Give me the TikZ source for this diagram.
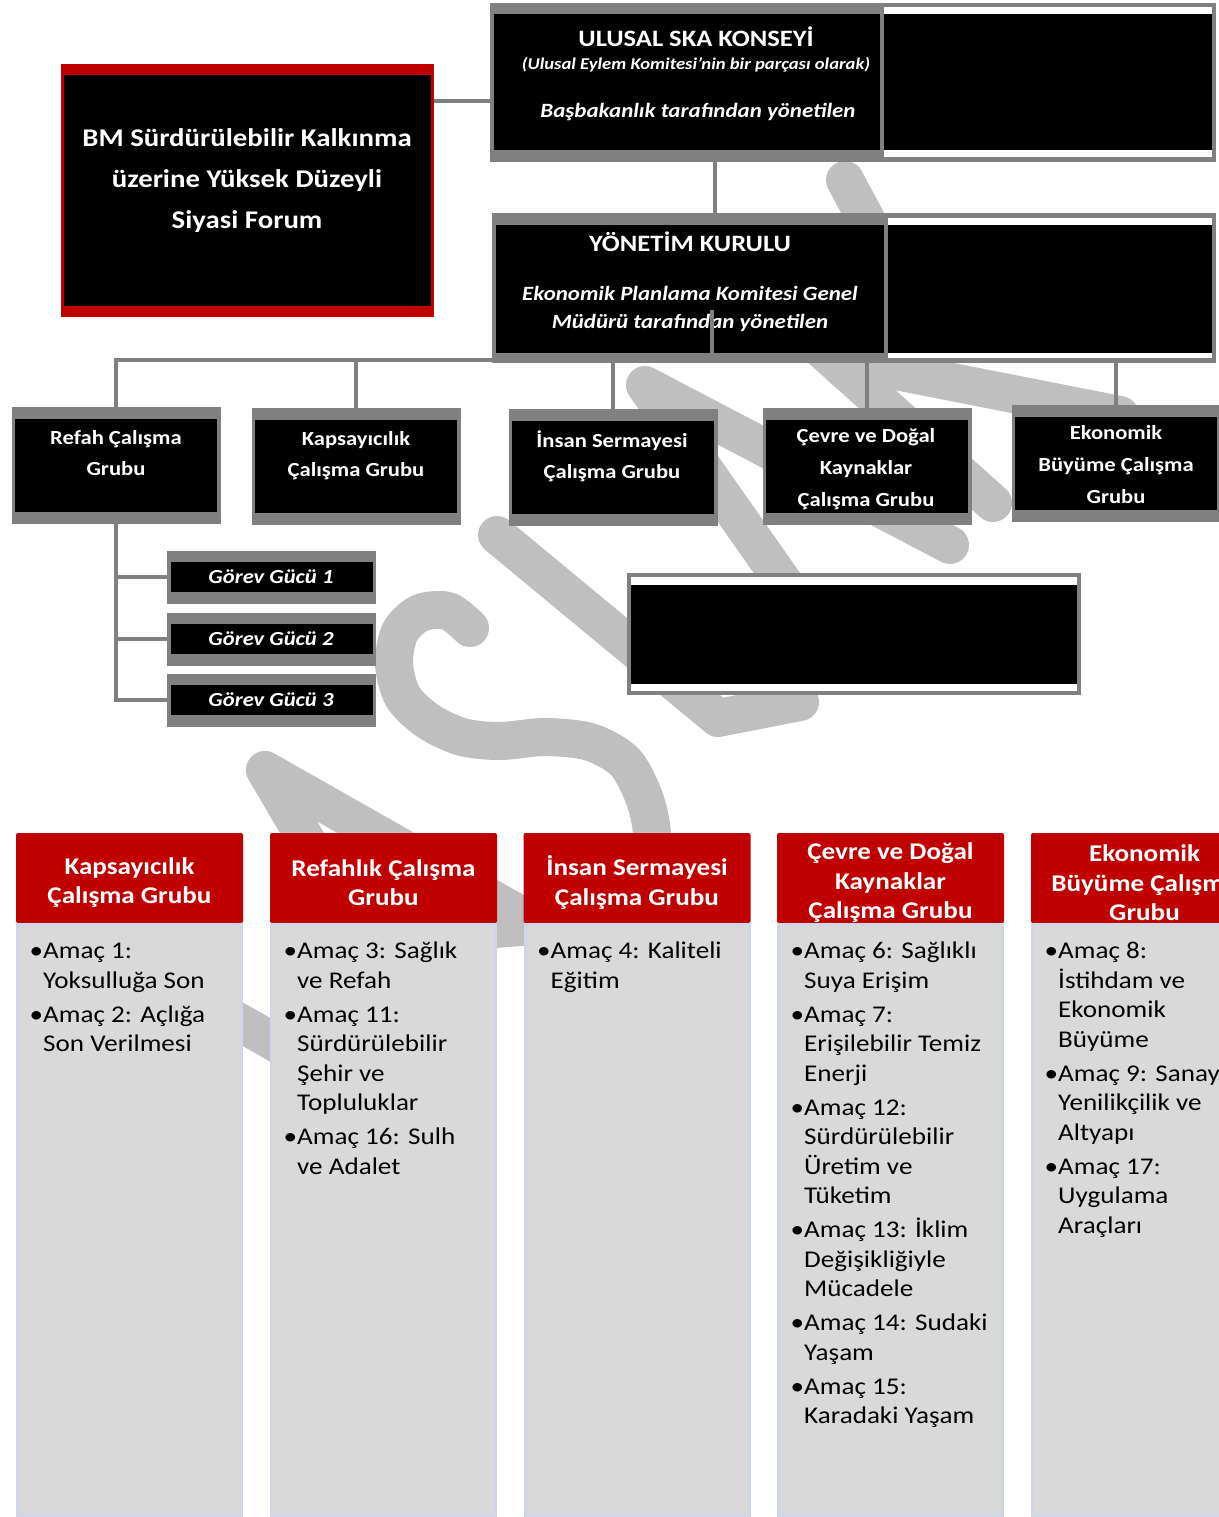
\documentclass[tikz,border=0pt]{standalone}
\usepackage{fontspec}
\setmainfont{Carlito}[FakeStretch=1.13]
\usepackage{tikz}
\definecolor{framegray}{HTML}{808080}
\definecolor{skared}{HTML}{C00000}
\definecolor{wmgray}{HTML}{BFBFBF}
\definecolor{bodygray}{HTML}{D9D9D9}
\definecolor{bodyline}{HTML}{CFD6E6}
\tikzstyle{frame} = [rectangle, fill=framegray, inner sep=0pt, outer sep=0pt]
\tikzstyle{block} = [rectangle, fill=black, inner sep=0pt, outer sep=0pt]
\tikzstyle{blank} = [rectangle, fill=white, inner sep=0pt, outer sep=0pt]
\tikzstyle{wtext} = [text=white, align=center, inner sep=0pt]
\tikzstyle{branch} = [draw=framegray, line width=4pt]
\tikzstyle{wmark} = [draw=wmgray, line width=38pt, line cap=round, line join=round]
\tikzstyle{head} = [rectangle, fill=skared, rounded corners=2pt, inner sep=0pt,
                 outer sep=0pt, minimum width=227pt, minimum height=90pt]
\tikzstyle{body} = [rectangle, fill=bodygray, draw=bodyline, line width=3pt,
                 inner sep=0pt, outer sep=0pt, minimum width=224pt, minimum height=591pt]
\tikzstyle{goal} = [anchor=north west, inner sep=0pt, font=\fontsize{24}{29.5}\selectfont]

\begin{document}
\begin{tikzpicture}[x=1pt,y=-1pt]
\useasboundingbox (0,0) rectangle (1218,1517);

%watermark
\draw[wmark] (437,1063) -- (265,770) -- (561,938);
\draw[wmark] (200,1000) -- (320,1068);
\draw[wmark] plot[smooth] coordinates {(470,628) (448,611) (420,613) (400,632) (394,664)
   (403,697) (428,721) (462,737) (500,741) (545,737) (590,742) (625,762) (645,800)
   (652,840) (640,885) (600,915) (540,925) (480,930)};
\draw[wmark] (497,535) -- (718,718) -- (800,702);
\draw[wmark] (840,663) -- (645,385) -- (950,545);
\draw[wmark] (845,180) -- (920,320);
\draw[wmark] (800,330) -- (993,503);
\draw[wmark] (840,360) -- (1120,415);

%top boxes
\node [frame, fill=skared, minimum width=373pt, minimum height=253pt] (fbm) at (247.5,190.5) {};
\node [block, minimum width=367pt, minimum height=231pt] (bm) at (247.5,190.5) {};
\node [wtext, font=\fontsize{25.5}{41}\selectfont\bfseries] (bmT) at (247,181)
   {BM Sürdürülebilir Kalkınma\\üzerine Yüksek Düzeyli\\Siyasi Forum};

\node [frame, minimum width=726pt, minimum height=159pt] (fulusal) at (853,82.5) {};
\node [block, minimum width=386pt, minimum height=136pt] (ulusal) at (687,82) {};
\node [blank, minimum width=328pt, minimum height=150pt] (ulusalW) at (1048,82) {};
\node [block, minimum width=328pt, minimum height=136pt] (ulusalR) at (1048,82) {};
\node [wtext, font=\fontsize{23.5}{26}\selectfont\bfseries] (ulusalT) at (696,36.5) {ULUSAL SKA KONSEYİ};
\node [wtext, font=\fontsize{16.5}{20}\selectfont\bfseries\itshape] (ulusalS) at (696,65)
   {(Ulusal Eylem Komitesi’nin bir parçası olarak)};
\node [wtext, font=\fontsize{20.3}{26}\selectfont\bfseries\itshape] (ulusalB) at (698,112.5)
   {Başbakanlık tarafından yönetilen};

\node [frame, minimum width=724pt, minimum height=150pt] (fyon) at (854,288) {};
\node [block, minimum width=388pt, minimum height=128pt] (yon) at (690,289) {};
\node [blank, minimum width=324pt, minimum height=140pt] (yonW) at (1050,288) {};
\node [block, minimum width=324pt, minimum height=128pt] (yonR) at (1050,289) {};
\node [wtext, font=\fontsize{23.5}{26}\selectfont\bfseries] (yonT) at (690,241.5) {YÖNETİM KURULU};
\node [wtext, font=\fontsize{20.3}{28}\selectfont\bfseries\itshape] (yonB) at (690,309)
   {Ekonomik Planlama Komitesi Genel\\Müdürü tarafından yönetilen};

%working groups
\foreach \x/\y/\n in {116/465/refah, 356/466.5/kaps, 613/467.5/insan, 867/466.5/cevre, 1116/463/ekon}{
   \node [frame, minimum width=209pt, minimum height=117pt] (f\n) at (\x,\y) {};
   \node [block, minimum width=202pt, minimum height=93pt] (\n) at (\x,\y) {};
}
\node [wtext, font=\fontsize{20}{31}\selectfont\bfseries] (refahT) at (116,453) {Refah Çalışma\\Grubu};
\node [wtext, font=\fontsize{20}{31}\selectfont\bfseries] (kapsT) at (356,455.5) {Kapsayıcılık\\Çalışma Grubu};
\node [wtext, font=\fontsize{20}{31}\selectfont\bfseries] (insanT) at (612,456.5) {İnsan Sermayesi\\Çalışma Grubu};
\node [wtext, font=\fontsize{20}{32}\selectfont\bfseries] (cevreT) at (866,469.5) {Çevre ve Doğal\\Kaynaklar\\Çalışma Grubu};
\node [wtext, font=\fontsize{20}{32}\selectfont\bfseries] (ekonT) at (1116,465) {Ekonomik\\Büyüme Çalışma\\Grubu};

\foreach \y/\k in {577/1, 639/2, 700/3}{
   \node [frame, minimum width=209pt, minimum height=53pt] (fgg\k) at (271,\y) {};
   \node [block, minimum width=202pt, minimum height=30pt] (gg\k) at (272,\y) {};
   \node [wtext, font=\fontsize{20}{24}\selectfont\bfseries\itshape] (ggT\k) at (271,\y) {Görev Gücü \k};
}

\node [frame, minimum width=454pt, minimum height=122pt] (fmid) at (854,634) {};
\node [blank, minimum width=446pt, minimum height=114pt] (midW) at (854,634) {};
\node [block, minimum width=446pt, minimum height=99pt] (mid) at (854,634.5) {};

%connectors
\coordinate (bcon) at (0,101);
\coordinate (ucon) at (715,0);
\coordinate (bus) at (0,360);
\coordinate (stub) at (712,310);
\path [branch] (fbm.east |- bcon) -- (fulusal.west |- bcon);
\path [branch] (fulusal.south -| ucon) -- (fyon.north -| ucon);
\path [branch] (frefah.north) -- (frefah.north |- bus) -- (fekon.north |- bus) -- (fekon.north);
\foreach \n in {kaps, insan, cevre}
   \path [branch] (f\n.north) -- (f\n.north |- bus);
\path [branch] (stub) -- (stub |- bus);
\path [branch] (frefah.south) -- (frefah.south |- fgg3.west) -- (fgg3.west);
\foreach \k in {1,2}
   \path [branch] (frefah.south |- fgg\k.west) -- (fgg\k.west);

%goal columns
\foreach \x/\n in {129.5/c1, 383.5/c2, 637/c3, 890.5/c4, 1144.5/c5}{
   \node [head] (h\n) at (\x,878) {};
   \node [body] (b\n) at (\x,1220) {};
}
\node [wtext, font=\fontsize{24}{29.5}\selectfont\bfseries] (hc1T) at (129.5,882.5) {Kapsayıcılık\\Çalışma Grubu};
\node [wtext, font=\fontsize{24}{29.5}\selectfont\bfseries] (hc2T) at (383.5,882.5) {Refahlık Çalışma\\Grubu};
\node [wtext, font=\fontsize{24}{29.5}\selectfont\bfseries] (hc3T) at (637,882.5) {İnsan Sermayesi\\Çalışma Grubu};
\node [wtext, font=\fontsize{24}{29.5}\selectfont\bfseries] (hc4T) at (890.5,883) {Çevre ve Doğal\\Kaynaklar\\Çalışma Grubu};
\node [wtext, font=\fontsize{24}{29.5}\selectfont\bfseries] (hc5T) at (1144.5,883) {Ekonomik\\Büyüme Çalışma\\Grubu};

\node [goal] (gc1) at (29.5,938) {\begin{tabular}{@{}l@{}l@{}}
   •&Amaç 1:\\ &Yoksulluğa Son\\[4.5pt]
   •&Amaç 2: Açlığa\\ &Son Verilmesi\end{tabular}};
\node [goal] (gc2) at (283.5,938) {\begin{tabular}{@{}l@{}l@{}}
   •&Amaç 3: Sağlık\\ &ve Refah\\[4.5pt]
   •&Amaç 11:\\ &Sürdürülebilir\\ &Şehir ve\\ &Topluluklar\\[4.5pt]
   •&Amaç 16: Sulh\\ &ve Adalet\end{tabular}};
\node [goal] (gc3) at (537,938) {\begin{tabular}{@{}l@{}l@{}}
   •&Amaç 4: Kaliteli\\ &Eğitim\end{tabular}};
\node [goal] (gc4) at (790.5,938) {\begin{tabular}{@{}l@{}l@{}}
   •&Amaç 6: Sağlıklı\\ &Suya Erişim\\[4.5pt]
   •&Amaç 7:\\ &Erişilebilir Temiz\\ &Enerji\\[4.5pt]
   •&Amaç 12:\\ &Sürdürülebilir\\ &Üretim ve\\ &Tüketim\\[4.5pt]
   •&Amaç 13: İklim\\ &Değişikliğiyle\\ &Mücadele\\[4.5pt]
   •&Amaç 14: Sudaki\\ &Yaşam\\[4.5pt]
   •&Amaç 15:\\ &Karadaki Yaşam\end{tabular}};
\node [goal] (gc5) at (1044.5,938) {\begin{tabular}{@{}l@{}l@{}}
   •&Amaç 8:\\ &İstihdam ve\\ &Ekonomik\\ &Büyüme\\[4.5pt]
   •&Amaç 9: Sanayi\\ &Yenilikçilik ve\\ &Altyapı\\[4.5pt]
   •&Amaç 17:\\ &Uygulama\\ &Araçları\end{tabular}};

\end{tikzpicture}
\end{document}
